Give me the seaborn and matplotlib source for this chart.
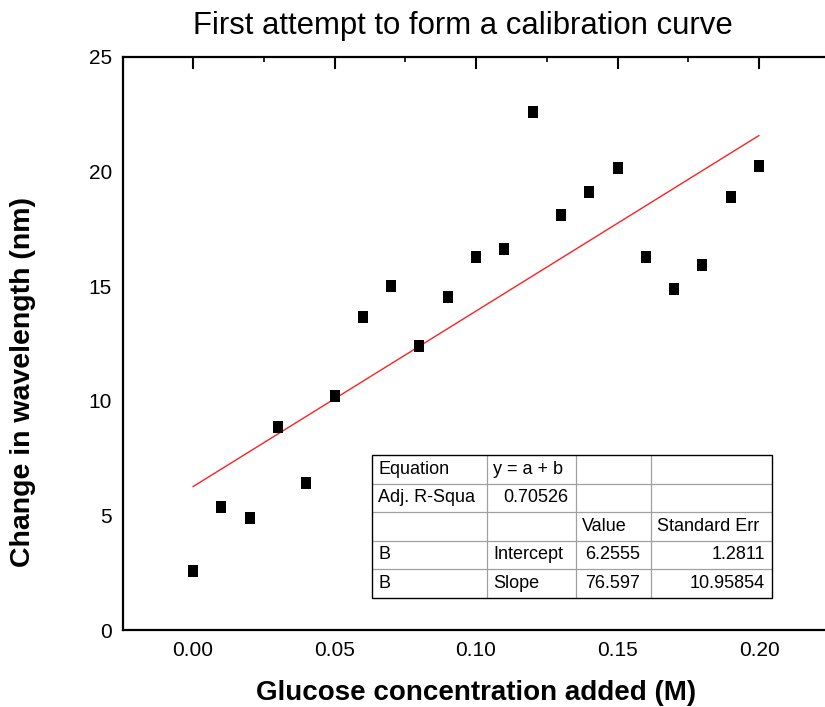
import numpy as np
import pandas as pd
import matplotlib
matplotlib.use("Agg")
import matplotlib.pyplot as plt
import seaborn as sns
from matplotlib.ticker import MultipleLocator, FixedLocator
from matplotlib.lines import Line2D
from matplotlib.patches import Rectangle

# ---------------- data ----------------
glucose_m = [0.00, 0.01, 0.02, 0.03, 0.04, 0.05, 0.06, 0.07, 0.08, 0.09, 0.10,
             0.11, 0.12, 0.13, 0.14, 0.15, 0.16, 0.17, 0.18, 0.19, 0.20]
wavelength_change_nm = [2.58, 5.38, 4.90, 8.87, 6.42, 10.23, 13.64, 15.03, 12.41,
                        14.51, 16.26, 16.61, 22.60, 18.09, 19.10, 20.15, 16.26,
                        14.86, 15.91, 18.88, 20.24]
fit_intercept = 6.2555
fit_slope = 76.597
fit_x_range = [0.0, 0.20]

x_ticks = [0.00, 0.05, 0.10, 0.15, 0.20]
x_tick_labels = ["0.00", "0.05", "0.10", "0.15", "0.20"]
y_ticks = [0, 5, 10, 15, 20, 25]
y_tick_labels = ["0", "5", "10", "15", "20", "25"]

title = "First attempt to form a calibration curve"
x_label = "Glucose concentration added (M)"
y_label = "Change in wavelength (nm)"

table_rows = [
    ["Equation", "y = a + b", "", ""],
    ["Adj. R-Squa", "0.70526", "", ""],
    ["", "", "Value", "Standard Err"],
    ["B", "Intercept", "6.2555", "1.2811"],
    ["B", "Slope", "76.597", "10.95854"],
]

# ---------------- style ----------------
sns.set_theme(style="white")
plt.rcParams['font.family'] = ['Liberation Sans', 'DejaVu Sans']

W, H = 825, 707
fig = plt.figure(figsize=(W / 100, H / 100), dpi=100)
ax_left, ax_right, ax_top, ax_bottom = 123, 828, 57, 630
ax = fig.add_axes([ax_left / W, (H - ax_bottom) / H,
                   (ax_right - ax_left) / W, (ax_bottom - ax_top) / H])

df = pd.DataFrame({"x": glucose_m, "y": wavelength_change_nm})
rect = [(-0.4, -0.5), (0.4, -0.5), (0.4, 0.5), (-0.4, 0.5), (-0.4, -0.5)]
sns.scatterplot(data=df, x="x", y="y", ax=ax, marker=rect, s=78,
                color="black", edgecolor="black", linewidth=0, zorder=3)

fit_x = np.array(fit_x_range)
fit_df = pd.DataFrame({"x": fit_x, "y": fit_intercept + fit_slope * fit_x})
sns.lineplot(data=fit_df, x="x", y="y", ax=ax, color="#ff2020", linewidth=1.0,
             zorder=2)

x0_px = 193
x_scale = (476 - 193) / 0.10
ax.set_xlim((ax_left - x0_px) / x_scale, (ax_right - x0_px) / x_scale)
ax.set_ylim(0, 25)

ax.xaxis.set_major_locator(FixedLocator(x_ticks))
ax.set_xticklabels(x_tick_labels)
ax.xaxis.set_minor_locator(MultipleLocator(0.025))
ax.yaxis.set_major_locator(FixedLocator(y_ticks))
ax.set_yticklabels(y_tick_labels)
ax.yaxis.set_minor_locator(MultipleLocator(2.5))

ax.tick_params(which="major", direction="in", length=8.5, width=1.5,
               top=True, right=False, labelsize=15, pad=8, color="black",
               labelcolor="black")
ax.tick_params(which="minor", direction="in", length=3.5, width=1.2,
               top=True, right=False, color="black")
for sp in ax.spines.values():
    sp.set_visible(True)
    sp.set_color("black")
    sp.set_linewidth(1.6)

ax.set_xlabel(x_label, fontsize=20, fontweight="bold", color="black")
ax.set_ylabel(y_label, fontsize=20.5, fontweight="bold", color="black")
ax.xaxis.label.set_va("center")
ax.yaxis.label.set_va("center")
ax.xaxis.set_label_coords((476 - ax_left) / (ax_right - ax_left),
                          (ax_bottom - 693) / (ax_bottom - ax_top))
ax.yaxis.set_label_coords((23 - ax_left) / (ax_right - ax_left),
                          (ax_bottom - 382) / (ax_bottom - ax_top))

fig.text(463 / W, 1 - 26 / H, title, fontsize=22.4, ha="center", va="center",
         color="black")

# ---------------- fit-result table ----------------
col_edges = [372, 487, 576, 651, 772]
right_pads = [6, 8, 11, 7]
row_top, row_h = 455, 28.5
n_rows = len(table_rows)
tbl_bottom = row_top + row_h * n_rows


def fx(p):
    return p / W


def fy(p):
    return 1 - p / H


fig.add_artist(Rectangle((fx(col_edges[0]), fy(tbl_bottom)),
                         fx(col_edges[-1]) - fx(col_edges[0]),
                         fy(row_top) - fy(tbl_bottom),
                         facecolor="white", edgecolor="none", zorder=4))
for i in range(1, n_rows):
    yy = fy(row_top + i * row_h)
    fig.add_artist(Line2D([fx(col_edges[0]), fx(col_edges[-1])], [yy, yy],
                          color="#a0a0a0", linewidth=0.9, zorder=5))
for c in col_edges[1:-1]:
    fig.add_artist(Line2D([fx(c), fx(c)], [fy(row_top), fy(tbl_bottom)],
                          color="#a0a0a0", linewidth=0.9, zorder=5))
fig.add_artist(Rectangle((fx(col_edges[0]), fy(tbl_bottom)),
                         fx(col_edges[-1]) - fx(col_edges[0]),
                         fy(row_top) - fy(tbl_bottom),
                         facecolor="none", edgecolor="black", linewidth=1.0,
                         zorder=6))


def is_number(s):
    try:
        float(s)
        return True
    except ValueError:
        return False


for r, row in enumerate(table_rows):
    yc = fy(row_top + (r + 0.5) * row_h)
    for c, txt in enumerate(row):
        if not txt:
            continue
        if is_number(txt):
            xpos, ha = fx(col_edges[c + 1] - right_pads[c]), "right"
        else:
            xpos, ha = fx(col_edges[c] + 6), "left"
        fig.text(xpos, yc, txt, fontsize=13, ha=ha, va="center",
                 color="black", zorder=7)

fig.savefig("out.png", dpi=100, facecolor="white")
